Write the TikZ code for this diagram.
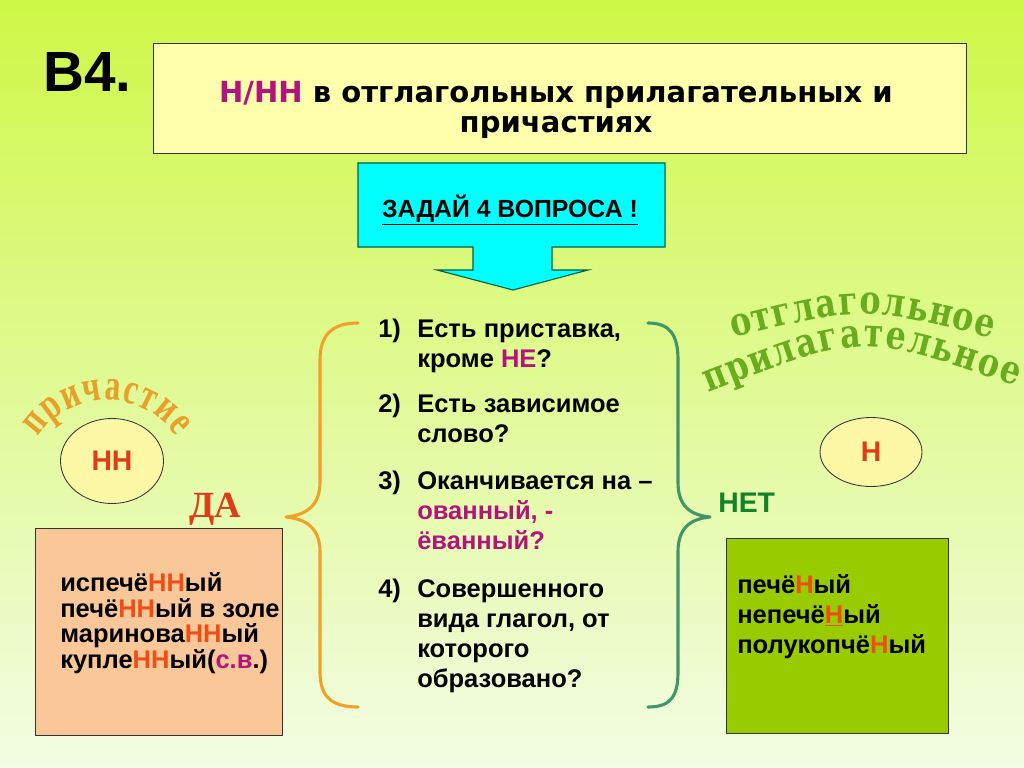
\documentclass[tikz,border=0pt]{standalone}
\usepackage{fontspec}
\setmainfont{Liberation Sans}
\newfontfamily\verdfont{DejaVu Sans}
\newfontfamily\artfont[FakeStretch=0.8]{DejaVu Serif}
\newfontfamily\timesfont{Liberation Serif}
\newfontfamily\archfont[FakeStretch=0.72]{Liberation Serif}
\usetikzlibrary{positioning, shapes.geometric, decorations.text}

\definecolor{bgtop}{RGB}{206,248,70}
\definecolor{bgmid}{RGB}{230,251,175}
\definecolor{bgbot}{RGB}{243,252,228}
\definecolor{titlefill}{RGB}{255,255,172}
\definecolor{magen}{RGB}{178,20,125}
\definecolor{hot}{RGB}{238,78,22}
\definecolor{cyanfill}{RGB}{0,255,255}
\definecolor{cyanedge}{RGB}{0,95,70}
\definecolor{orangebr}{RGB}{240,162,40}
\definecolor{greenbr}{RGB}{65,150,105}
\definecolor{prichcol}{RGB}{232,160,40}
\definecolor{adjcol}{RGB}{105,172,30}
\definecolor{peach}{RGB}{250,200,152}
\definecolor{lime}{RGB}{153,204,0}
\definecolor{netgreen}{RGB}{20,130,40}
\definecolor{dared}{RGB}{225,60,25}
\definecolor{ovalfill}{RGB}{252,248,165}

% multi-line nodes sit on the baseline of their last line
\tikzset{
  q/.style={anchor=base west, align=left, inner sep=0pt,
    font=\bfseries\fontsize{18}{21}\selectfont},
  panel/.style={draw=black!80, line width=0.6pt, anchor=north west, inner sep=0pt},
  oval/.style={ellipse, draw=black!80, fill=ovalfill, line width=0.6pt, inner sep=0pt,
    text=dared, font=\bfseries\fontsize{20}{20}\selectfont},
  brace/.style={line width=2.2pt, line cap=round, line join=round},
  arttext/.style={decorate, decoration={text along path, text align={fit to path}, text={#1}}}
}

\begin{document}
\begin{tikzpicture}[x=0.0248cm, y=-0.0248cm]
  \useasboundingbox (0,0) rectangle (1024,768);
  \shade[top color=bgtop, middle color=bgmid, bottom color=bgbot] (0,0) rectangle (1024,768);

  % header
  \node[anchor=base west, inner sep=0pt, font=\bfseries\fontsize{40}{40}\selectfont] (b4) at (43,92) {B4.};
  \node[panel, fill=titlefill, minimum width=813*0.0248cm, minimum height=110*0.0248cm] (title) at (153,43) {};
  \node[anchor=base, inner sep=0pt, align=center, font=\verdfont\bfseries\fontsize{20.5}{21.8}\selectfont] (titletext) at (556,133)
    {\textcolor{magen}{Н/НН} в отглагольных прилагательных и\\причастиях};

  % question callout
  \draw[fill=cyanfill, draw=cyanedge, line width=0.8pt]
    (358,163) -- (665,163) -- (665,247) -- (552,247) -- (552,270) -- (588,270)
    -- (513,290) -- (437,270) -- (473,270) -- (473,247) -- (358,247) -- cycle;
  \node[anchor=base, inner sep=0pt, font=\bfseries\fontsize{17.5}{17.5}\selectfont] (ask) at (510,217) {\underline{ЗАДАЙ 4 ВОПРОСА !}};

  % braces
  \draw[brace, orangebr] (358,323) .. controls (332,323) and (320,335) .. (320,360) -- (320,482)
    .. controls (320,506) and (306,515) .. (286,517) .. controls (306,519) and (320,528) .. (320,552)
    -- (320,672) .. controls (320,697) and (332,707) .. (358,707);
  \draw[brace, greenbr] (648,323) .. controls (670,323) and (678,335) .. (678,360) -- (678,482)
    .. controls (678,506) and (690,515) .. (710,517) .. controls (690,519) and (678,528) .. (678,552)
    -- (678,672) .. controls (678,697) and (670,707) .. (648,707);

  % four questions
  \node[q] (n1) at (378,337) {1)};
  \node[q] (q1) at (417,367) {Есть приставка,\\кроме \textcolor{magen}{НЕ}?};
  \node[q] (n2) at (378,412) {2)};
  \node[q] (q2) at (417,442) {Есть зависимое\\слово?};
  \node[q] (n3) at (378,489) {3)};
  \node[q] (q3) at (417,549) {Оканчивается на –\\\textcolor{magen}{ованный, -}\\\textcolor{magen}{ёванный?}};
  \node[q] (n4) at (378,597) {4)};
  \node[q] (q4) at (417,687) {Совершенного\\вида глагол, от\\которого\\образовано?};

  % left side: participle
  \path[arttext={|\archfont\bfseries\fontsize{31}{31}\selectfont\color{prichcol}|причастие}]
    (38,437) .. controls (70,388) and (144,388) .. (176,437);
  \node[oval, minimum width=103*0.0248cm, minimum height=85*0.0248cm] (nn) at (112,461) {НН};
  \node[anchor=base, inner sep=0pt, text=dared, font=\timesfont\bfseries\fontsize{26}{26}\selectfont] (da) at (215,517) {ДА};
  \node[panel, fill=peach, minimum width=247*0.0248cm, minimum height=207*0.0248cm] (leftbox) at (35,528) {};
  \node[q, font=\bfseries\fontsize{18}{17.9}\selectfont] (leftlist) at (60,668)
    {испечё\textcolor{hot}{НН}ый\\печё\textcolor{hot}{НН}ый в золе\\маринова\textcolor{hot}{НН}ый\\купле\textcolor{hot}{НН}ый(\textcolor{magen}{с.в}.)};

  % right side: verbal adjective
  \path[arttext={|\artfont\bfseries\fontsize{28}{28}\selectfont\color{adjcol}|отглагольное}]
    (733,338) .. controls (862,306) .. (992,338);
  \path[arttext={|\artfont\bfseries\fontsize{28}{28}\selectfont\color{adjcol}|прилагательное}]
    (708,393) .. controls (862,333) .. (1016,386);
  \node[oval, minimum width=102*0.0248cm, minimum height=69*0.0248cm] (n) at (871,452) {Н};
  \node[anchor=base west, inner sep=0pt, text=netgreen, font=\bfseries\fontsize{20}{20}\selectfont] (net) at (718,512) {НЕТ};
  \node[panel, fill=lime, minimum width=222*0.0248cm, minimum height=195*0.0248cm] (rightbox) at (726,538) {};
  \node[q] (rightlist) at (737,653)
    {печё\textcolor{hot}{Н}ый\\непечё\textcolor{hot}{\underline{Н}}ый\\полукопчё\textcolor{hot}{Н}ый};
\end{tikzpicture}
\end{document}
